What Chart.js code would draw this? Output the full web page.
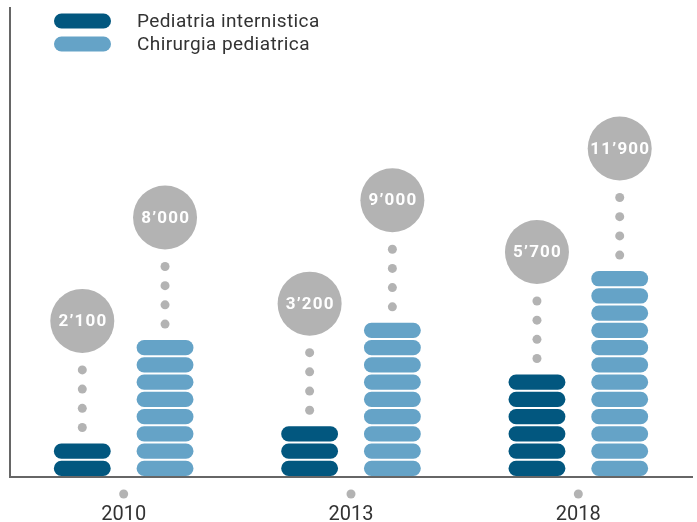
<!DOCTYPE html>
<html>
<head>
<meta charset="utf-8">
<script src="https://cdn.jsdelivr.net/npm/chart.js@4.4.1/dist/chart.umd.min.js"></script>
<style>
  html, body { margin: 0; padding: 0; background: #fff; }
  #wrap { width: 697px; height: 522px; position: relative; }
</style>
</head>
<body>
<div id="wrap"><canvas id="chart"></canvas></div>
<script>
// Dati del grafico
const years = ['2010', '2013', '2018'];
const pediatria = [2100, 3200, 5700];
const chirurgia = [8000, 9000, 11900];
const seriesLabels = ['Pediatria internistica', 'Chirurgia pediatrica'];
const seriesColors = ['#02577f', '#65a3c7'];
const UNIT = 1000; // un blocco = 1000

const GREY = '#b3b3b3';

function fmt(v) {
    return String(v).replace(/\B(?=(\d{3})+(?!\d))/g, '\u2019');
}

// disegna i blocchi arrotondati, i puntini e le bolle con il valore
const pillPlugin = {
    id: 'pills',
    beforeDatasetsDraw() {
        return false;
    },
    afterDraw(chart) {
        const ctx = chart.ctx;
        const y = chart.scales.y;
        const x = chart.scales.x;

        chart.data.datasets.forEach((ds, di) => {
            const meta = chart.getDatasetMeta(di);
            meta.data.forEach((bar, i) => {
                const v = ds.data[i];
                const n = Math.round(v / UNIT);
                const w = bar.width;
                const left = bar.x - w / 2;
                ctx.fillStyle = ds.backgroundColor;
                for (let k = 0; k < n; k++) {
                    const bottom = y.getPixelForValue(k * UNIT);
                    const top = y.getPixelForValue((k + 1) * UNIT);
                    ctx.beginPath();
                    ctx.roundRect(left, top + 1, w, bottom - top - 2, 7.5);
                    ctx.fill();
                }
                const barTop = y.getPixelForValue(n * UNIT);
                ctx.fillStyle = GREY;
                let dotY = barTop - 15;
                for (let d = 0; d < 4; d++) {
                    ctx.beginPath();
                    ctx.arc(bar.x, dotY - d * 19.2, 4.5, 0, Math.PI * 2);
                    ctx.fill();
                }
                const cy = dotY - 3 * 19.2 - 49;
                ctx.beginPath();
                ctx.arc(bar.x, cy, 32, 0, Math.PI * 2);
                ctx.fill();
                ctx.fillStyle = '#fff';
                ctx.font = 'bold 17px Roboto';
                ctx.letterSpacing = '1.2px';
                ctx.textAlign = 'center';
                ctx.textBaseline = 'middle';
                ctx.fillText(fmt(v), bar.x + 0.6, cy + 1);
                ctx.letterSpacing = '0px';
            });
        });

        // puntini sopra gli anni
        ctx.fillStyle = GREY;
        x.ticks.forEach((t, i) => {
            ctx.beginPath();
            ctx.arc(x.getPixelForTick(i), 494, 4.5, 0, Math.PI * 2);
            ctx.fill();
        });

        // legenda
        ctx.font = '19px Roboto';
        ctx.letterSpacing = '0.4px';
        ctx.textAlign = 'left';
        ctx.textBaseline = 'middle';
        chart.data.datasets.forEach((ds, di) => {
            const cy = 21 + di * 23;
            ctx.fillStyle = ds.backgroundColor;
            ctx.beginPath();
            ctx.roundRect(54, cy - 7.5, 57, 15, 7.5);
            ctx.fill();
            ctx.fillStyle = '#333';
            ctx.fillText(ds.label, 137, cy + 1);
        });
        ctx.letterSpacing = '0px';
    }
};

const ctx = document.getElementById('chart').getContext('2d');
new Chart(ctx, {
    type: 'bar',
    data: {
        labels: years,
        datasets: [{
            label: seriesLabels[0],
            data: pediatria,
            backgroundColor: seriesColors[0]
        }, {
            label: seriesLabels[1],
            data: chirurgia,
            backgroundColor: seriesColors[1]
        }]
    },
    options: {
        responsive: true,
        maintainAspectRatio: false,
        animation: false,
        layout: {
            padding: { top: 8, left: 10, right: 5, bottom: 0 }
        },
        categoryPercentage: 0.728,
        barPercentage: 0.687,
        plugins: {
            legend: { display: false },
            tooltip: { enabled: false }
        },
        scales: {
            x: {
                grid: { display: false, drawTicks: false },
                border: { display: true, color: '#666', width: 2 },
                ticks: {
                    padding: 26,
                    color: '#333',
                    font: { family: 'Roboto', size: 20 }
                },
                afterFit(scale) {
                    scale.height = 45;
                }
            },
            y: {
                min: 0,
                max: 27200,
                grid: { display: false, drawTicks: false },
                border: { display: true, color: '#666', width: 2 },
                ticks: { display: false }
            }
        }
    },
    plugins: [pillPlugin]
});
</script>
</body>
</html>
